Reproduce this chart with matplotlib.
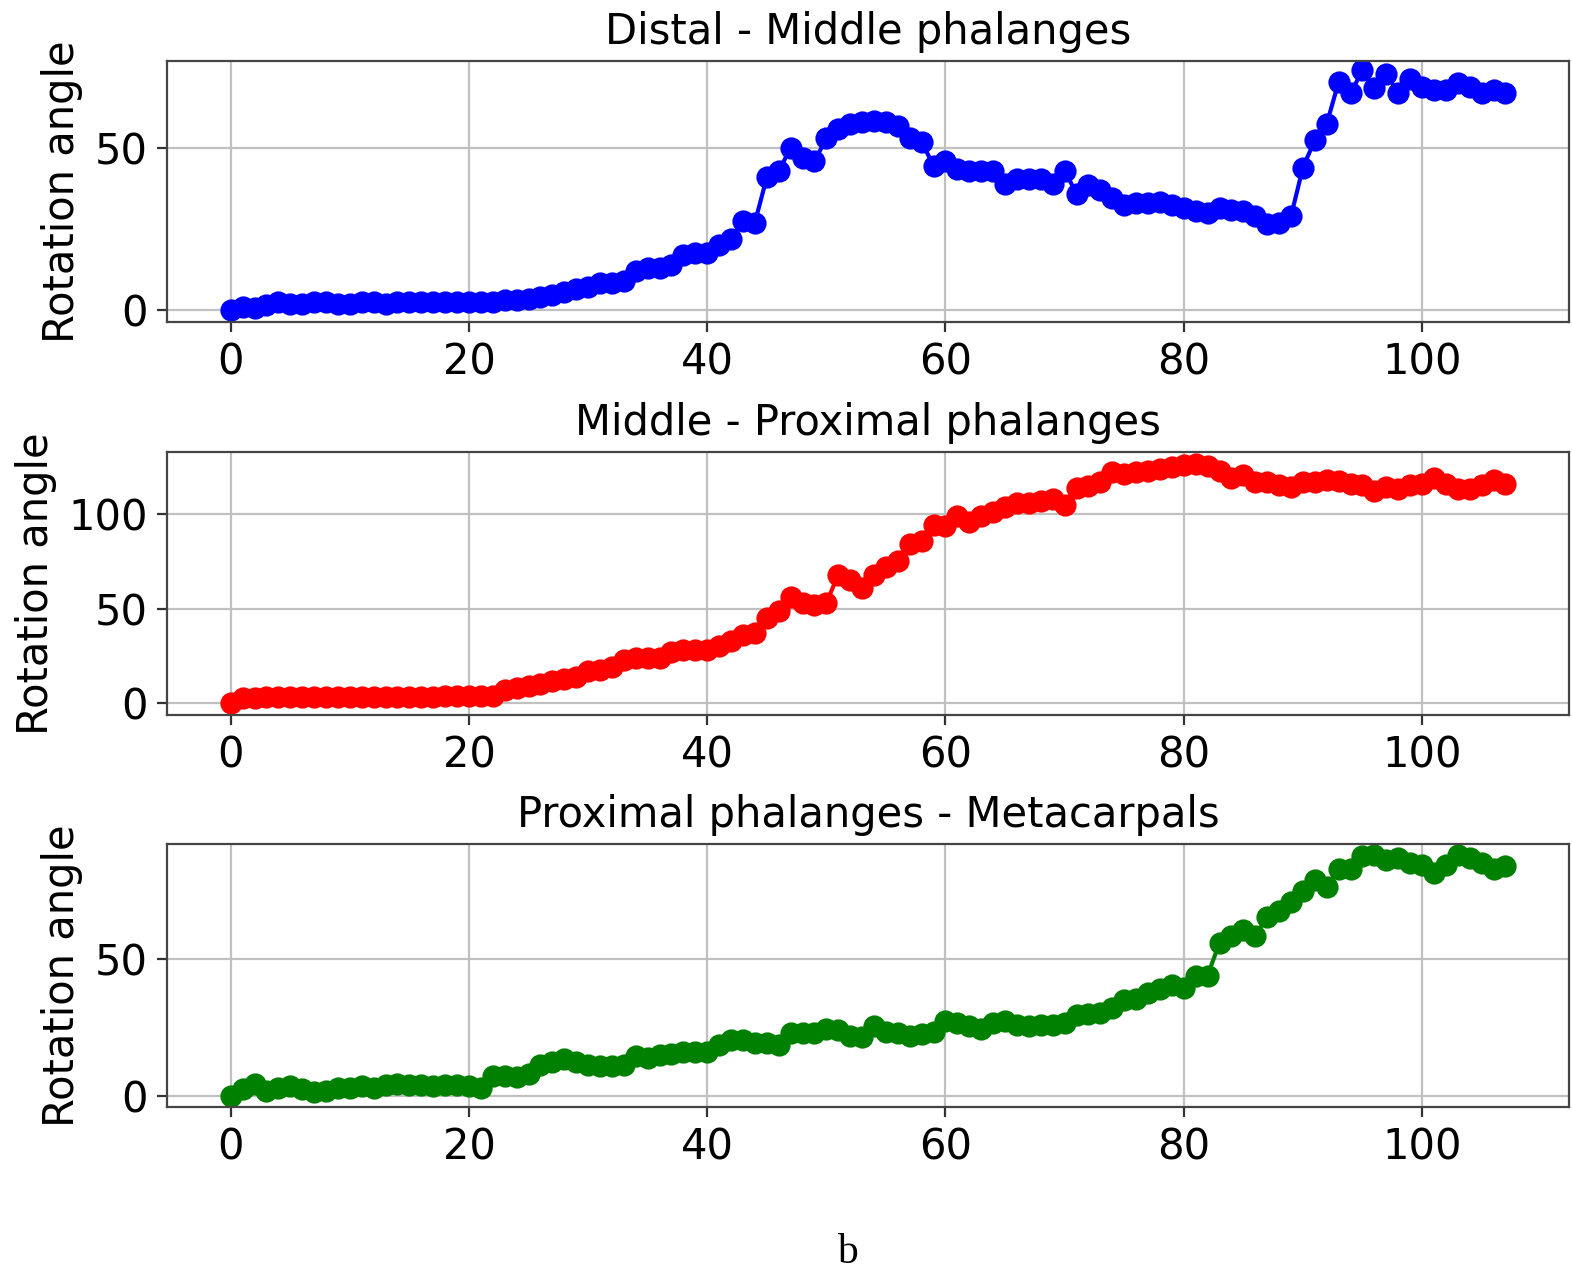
import numpy as np
import matplotlib
matplotlib.use("Agg")
import matplotlib.pyplot as plt

# rotation angles per frame
distal_middle = [0, 1, 0.5, 1.5, 2.5, 2, 2, 2.5, 2.5, 2,
                 2, 2.5, 2.5, 2, 2.5, 2.5, 2.5, 2.5, 2.5, 2.5,
                 2.5, 2.5, 2.5, 3, 3, 3.5, 4, 4.5, 5.5, 6.5,
                 7, 8.5, 8.5, 9, 12, 13, 13, 14, 17, 17.5,
                 17.5, 20, 22, 27.5, 27, 41, 43, 50, 47, 46,
                 53, 56, 57.5, 58, 58.5, 58, 57, 53, 52, 44.5,
                 46, 43.5, 43, 43, 43, 39, 40.5, 40.5, 40.5, 39,
                 43, 36, 38.5, 37, 34.5, 32.5, 33, 33, 33.5, 32.5,
                 31.5, 30.5, 30, 31.5, 31, 30.5, 29, 26.5, 27, 29,
                 44, 52.5, 57.5, 70.5, 67, 74, 68.5, 73, 67, 71.5,
                 69, 68, 68, 70, 69, 67, 68, 67]

middle_proximal = [0, 2.5, 2.5, 3, 3.5, 3, 3, 3, 3, 3,
                   3, 3.5, 3, 3, 3, 3, 3.5, 3.5, 4, 4,
                   4, 4, 4, 7, 8, 9, 10, 11.5, 13, 14,
                   17, 17.5, 19, 23, 24, 24, 24, 27, 28, 28,
                   28, 30, 33, 36, 37, 45, 49, 56, 53, 52,
                   53, 68, 65, 61, 68, 72, 75, 84, 86, 94,
                   93.5, 99, 96, 99, 101, 104, 106, 106, 107, 108,
                   105, 114, 115, 117, 122, 121, 122, 123, 124, 125,
                   126, 126.5, 125.5, 123, 119, 120.5, 117, 117, 115.5, 114.5,
                   117, 117, 118, 117.5, 116, 115.5, 112, 114.5, 113, 115.5,
                   116, 119, 116, 113, 113, 115.5, 118, 116]

proximal_metacarpal = [0, 2.5, 4.5, 2, 3, 3.5, 2.5, 1.5, 2, 3,
                       3, 3.5, 3, 4, 4.5, 4, 4, 3.5, 4, 4,
                       3.5, 3, 7.5, 7.5, 7, 8, 11.5, 12.5, 13.5, 12.5,
                       11.5, 11, 11, 11.5, 14.5, 14, 15, 15.5, 16, 16,
                       16, 18.5, 20.5, 20.5, 19.5, 19.5, 18.5, 23, 23, 23,
                       24.5, 24, 22, 21.5, 25.5, 23.5, 23, 22, 22.5, 23.5,
                       27.5, 26.5, 25.5, 24.5, 26.5, 27.5, 26, 25.5, 26, 26,
                       26.5, 29.5, 30, 30.5, 32, 35, 35.5, 37.5, 39, 40.5,
                       39.5, 44, 44, 56, 58.5, 60.5, 58.5, 65.5, 67.5, 71,
                       75, 79, 76.5, 83, 83, 87.5, 88, 86, 87, 85,
                       84.5, 81.5, 84.5, 88, 87, 85, 83, 84]

titles = ["Distal - Middle phalanges", "Middle - Proximal phalanges",
          "Proximal phalanges - Metacarpals"]
series = [distal_middle, middle_proximal, proximal_metacarpal]
colors = ["blue", "red", "green"]
ylims = [(-3.7, 76.9), (-6.3, 132.8), (-4.0, 92.0)]

frames = np.arange(len(distal_middle))

fig = plt.figure(figsize=(7.86, 6.405), dpi=200)
rows = [(0.7486, 0.2037), (0.4418, 0.2053), (0.1358, 0.2053)]

for i in range(3):
    ax = fig.add_axes([0.1062, rows[i][0], 0.892, rows[i][1]])
    ax.plot(frames, series[i], "o-", color=colors[i], markersize=7, linewidth=1.5)
    ax.set_title(titles[i], fontsize=15)
    ax.set_ylabel("Rotation angle", fontsize=15)
    ax.set_ylim(ylims[i])
    ax.set_xticks([0, 20, 40, 60, 80, 100])
    ax.tick_params(labelsize=15, color="#333333")
    for sp in ax.spines.values():
        sp.set_color("#444444")
    ax.grid(True, color="#c0c0c0")

fig.text(0.539, 0.022, "b", family="Liberation Serif", fontsize=15,
         ha="center", va="center")

plt.savefig("out.png", dpi=200)
